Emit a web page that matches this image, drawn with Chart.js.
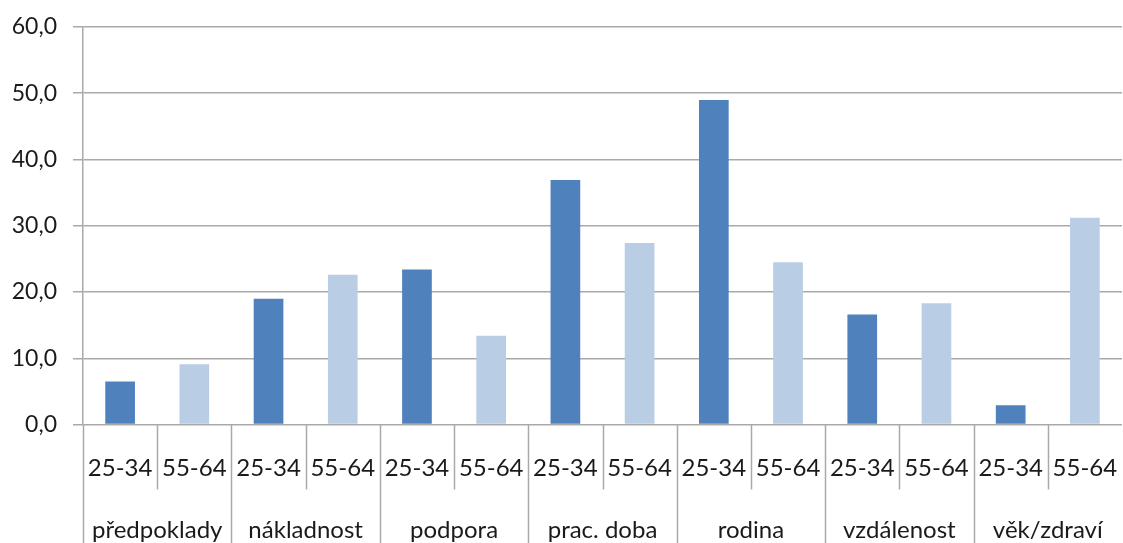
<!DOCTYPE html>
<html>
<head>
<meta charset="utf-8">
<script src="https://cdn.jsdelivr.net/npm/chart.js@4/dist/chart.umd.min.js"></script>
<style>
  html, body { margin: 0; padding: 0; background: #ffffff; }
  #wrap { width: 1123px; height: 543px; }
</style>
</head>
<body>
<div id="wrap"><canvas id="c" width="1123" height="543"></canvas></div>
<script>
// Reasons by category, two age bands per category (%)
const groups = ['předpoklady', 'nákladnost', 'podpora', 'prac. doba', 'rodina', 'vzdálenost', 'věk/zdraví'];
const ageBands = ['25-34', '55-64'];
const young = [6.5, 19.0, 23.4, 36.9, 49.0, 16.6, 2.9];   // 25-34
const older = [9.1, 22.6, 13.4, 27.4, 24.5, 18.3, 31.2];  // 55-64
const yTicks = [0, 10, 20, 30, 40, 50, 60];

const colors = ['#4F81BD', '#B9CDE5'];
const FONT = 'Lato, "Open Sans", sans-serif';
const TEXT = '#1a1a1a';
const GRID = '#a9a9a9';

// flatten groups x age bands into one category axis
const labels = [], values = [], barColors = [];
groups.forEach((g, i) => {
  [young[i], older[i]].forEach((v, j) => {
    labels.push(ageBands[j]);
    values.push(v);
    barColors.push(colors[j]);
  });
});

// two-level category labels and separators below the plot area
const multiLevelAxis = {
  id: 'multiLevelAxis',
  afterDraw(chart) {
    const ctx = chart.ctx;
    const xs = chart.scales.x;
    const area = chart.chartArea;
    const step = xs.getPixelForValue(1) - xs.getPixelForValue(0);
    const bottom = chart.height;
    const innerBottom = area.bottom + 65;
    ctx.save();
    ctx.strokeStyle = GRID;
    ctx.lineWidth = 1.5;
    // separators
    for (let i = 0; i < labels.length; i++) {
      const xl = Math.round(xs.getPixelForValue(i) - step / 2) + 0.5;
      ctx.beginPath();
      ctx.moveTo(xl, area.bottom);
      ctx.lineTo(xl, i % 2 === 0 ? bottom : innerBottom);
      ctx.stroke();
    }
    // labels
    ctx.fillStyle = TEXT;
    ctx.font = '24px ' + FONT;
    ctx.textAlign = 'center';
    ctx.textBaseline = 'alphabetic';
    labels.forEach((l, i) => {
      ctx.fillText(l, xs.getPixelForValue(i), area.bottom + 51);
    });
    groups.forEach((g, i) => {
      const xc = (xs.getPixelForValue(2 * i) + xs.getPixelForValue(2 * i + 1)) / 2;
      ctx.fillText(g, xc, area.bottom + 113);
    });
    ctx.restore();
  }
};

new Chart(document.getElementById('c'), {
  type: 'bar',
  data: {
    labels: labels,
    datasets: [{
      data: values,
      backgroundColor: barColors,
      borderWidth: 0,
      barPercentage: 0.4,
      categoryPercentage: 1.0
    }]
  },
  options: {
    responsive: false,
    animation: false,
    layout: { padding: { top: 27, right: 1, left: 0, bottom: 0 } },
    plugins: { legend: { display: false }, tooltip: { enabled: false } },
    scales: {
      x: {
        ticks: { display: false },
        grid: { display: false },
        border: { display: false },
        afterFit: s => { s.height = 118.5; }
      },
      y: {
        min: 0,
        max: 60,
        afterBuildTicks: s => { s.ticks = yTicks.map(v => ({ value: v })); },
        afterFit: s => { s.width = 83; s.paddingTop = 0; },
        ticks: {
          padding: 16,
          color: TEXT,
          font: { family: FONT, size: 23 },
          callback: v => v.toFixed(1).replace('.', ',')
        },
        grid: { color: GRID, lineWidth: 1.5, tickLength: 10 },
        border: { display: true, color: GRID, width: 1.5 }
      }
    }
  },
  plugins: [multiLevelAxis]
});
</script>
</body>
</html>
